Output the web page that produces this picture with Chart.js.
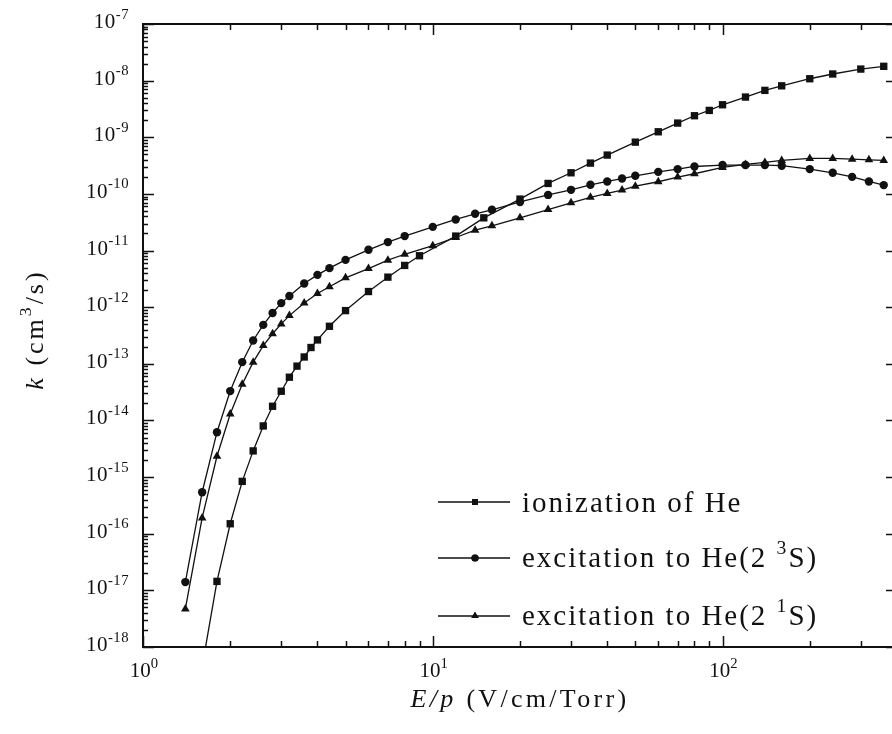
<!DOCTYPE html>
<html>
<head>
<meta charset="utf-8">
<script src="https://cdn.jsdelivr.net/npm/chart.js@4.4.1/dist/chart.umd.min.js"></script>
<style>
html, body { margin: 0; padding: 0; overflow: hidden; background: #fff; }
#wrap { position: absolute; left: 0; top: 0; width: 910px; height: 734px; }
</style>
</head>
<body>
<div id="wrap"><canvas id="myChart"></canvas></div>
<script>
// E/p values (V/cm/Torr) and rate coefficients k (cm3/s)
const ionX = [1.6, 1.8, 2.0, 2.2, 2.4, 2.6, 2.8, 3.0, 3.2, 3.4, 3.6, 3.8, 4.0, 4.4, 5, 6, 7, 8, 9, 12, 15, 20, 25, 30, 35, 40, 50, 60, 70, 80, 90, 100, 120, 140, 160, 200, 240, 300, 360];
const ionK = [4.5e-19, 1.44e-17, 1.5e-16, 8.4e-16, 2.9e-15, 8.0e-15, 1.78e-14, 3.28e-14, 5.8e-14, 9.1e-14, 1.32e-13, 1.94e-13, 2.64e-13, 4.6e-13, 8.7e-13, 1.89e-12, 3.39e-12, 5.46e-12, 8.1e-12, 1.8e-11, 3.78e-11, 8.1e-11, 1.53e-10, 2.36e-10, 3.5e-10, 4.85e-10, 8.2e-10, 1.25e-9, 1.78e-9, 2.4e-9, 2.98e-9, 3.75e-9, 5.13e-9, 6.73e-9, 8.1e-9, 1.08e-8, 1.31e-8, 1.6e-8, 1.79e-8];

const ex3X = [1.4, 1.6, 1.8, 2.0, 2.2, 2.4, 2.6, 2.8, 3.0, 3.2, 3.6, 4.0, 4.4, 5, 6, 7, 8, 10, 12, 14, 16, 20, 25, 30, 35, 40, 45, 50, 60, 70, 80, 100, 120, 140, 160, 200, 240, 280, 320, 360];
const ex3K = [1.4e-17, 5.4e-16, 6.2e-15, 3.3e-14, 1.07e-13, 2.58e-13, 4.87e-13, 7.9e-13, 1.18e-12, 1.58e-12, 2.62e-12, 3.72e-12, 4.89e-12, 6.85e-12, 1.03e-11, 1.41e-11, 1.8e-11, 2.62e-11, 3.54e-11, 4.45e-11, 5.25e-11, 7.2e-11, 9.6e-11, 1.18e-10, 1.45e-10, 1.66e-10, 1.87e-10, 2.09e-10, 2.45e-10, 2.74e-10, 3.05e-10, 3.23e-10, 3.23e-10, 3.23e-10, 3.15e-10, 2.74e-10, 2.36e-10, 2.0e-10, 1.66e-10, 1.43e-10];

const ex1X = [1.4, 1.6, 1.8, 2.0, 2.2, 2.4, 2.6, 2.8, 3.0, 3.2, 3.6, 4.0, 4.4, 5, 6, 7, 8, 10, 12, 14, 16, 20, 25, 30, 35, 40, 45, 50, 60, 70, 80, 100, 120, 140, 160, 200, 240, 280, 320, 360];
const ex1K = [4.7e-18, 1.9e-16, 2.33e-15, 1.3e-14, 4.36e-14, 1.07e-13, 2.1e-13, 3.39e-13, 5.07e-13, 7.1e-13, 1.19e-12, 1.74e-12, 2.29e-12, 3.3e-12, 4.8e-12, 6.76e-12, 8.6e-12, 1.22e-11, 1.7e-11, 2.29e-11, 2.73e-11, 3.78e-11, 5.3e-11, 6.97e-11, 8.7e-11, 1.02e-10, 1.17e-10, 1.37e-10, 1.64e-10, 1.98e-10, 2.27e-10, 2.94e-10, 3.32e-10, 3.6e-10, 3.9e-10, 4.24e-10, 4.24e-10, 4.1e-10, 4.0e-10, 3.9e-10];

// axis tick labels (powers of ten)
const xTickExp = [0, 1, 2];
const yTickExp = [-7, -8, -9, -10, -11, -12, -13, -14, -15, -16, -17, -18];

// legend texts: [plain, superscript, tail]
const seriesNames = [
    ['ionization of He', '', ''],
    ['excitation to He(2 ', '3', 'S)'],
    ['excitation to He(2 ', '1', 'S)']
];

const SERIF = "'Liberation Serif', 'Times New Roman', serif";
const ctx = document.querySelector("#myChart");

function pts(xs, ys) {
    return xs.map((x, i) => ({ x: x, y: ys[i] }));
}

// draws a run of text pieces: {t, it, sup}
function drawRich(c, parts, x, y, size, spacing, align, supScale) {
    const ss = supScale || 0.68;
    c.letterSpacing = spacing + 'px';
    let w = 0;
    parts.forEach(p => {
        c.font = (p.it ? 'italic ' : '') + (p.sup ? size * ss : size) + 'px ' + SERIF;
        p.w = c.measureText(p.t).width;
        w += p.w;
    });
    let cx = align === 'center' ? x - w / 2 : align === 'right' ? x - w : x;
    c.textAlign = 'left';
    c.textBaseline = 'alphabetic';
    parts.forEach(p => {
        c.font = (p.it ? 'italic ' : '') + (p.sup ? size * ss : size) + 'px ' + SERIF;
        c.fillText(p.t, cx, p.sup ? y - size * 0.45 : y);
        cx += p.w;
    });
    c.letterSpacing = '0px';
}

const framePlugin = {
    id: 'frame',
    afterDraw(chart) {
        const c = chart.ctx;
        const a = chart.chartArea;
        const xs = chart.scales.x;
        const ys = chart.scales.y;
        c.save();
        c.fillStyle = '#111';
        c.strokeStyle = '#111';

        // ticks, all pointing inward
        c.lineWidth = 1.5;
        c.beginPath();
        for (let e = 0; e <= 2; e++) {
            for (let m = 1; m <= 9; m++) {
                const v = m * Math.pow(10, e);
                if (v > xs.max) continue;
                const px = Math.round(xs.getPixelForValue(v)) + 0.5;
                const len = m === 1 ? 11 : 6;
                c.moveTo(px, a.bottom); c.lineTo(px, a.bottom - len);
                c.moveTo(px, a.top); c.lineTo(px, a.top + len);
            }
        }
        for (let e = -18; e <= -7; e++) {
            for (let m = 1; m <= 9; m++) {
                const v = m * Math.pow(10, e);
                if (v > ys.max * 1.0001) continue;
                const py = Math.round(ys.getPixelForValue(v)) + 0.5;
                const len = m === 1 ? 11 : 5;
                c.moveTo(a.left, py); c.lineTo(a.left + len, py);
                c.moveTo(a.right, py); c.lineTo(a.right - len, py);
            }
        }
        c.stroke();

        // frame
        c.lineWidth = 2;
        c.strokeRect(a.left, a.top, a.right - a.left, a.bottom - a.top);

        // tick labels
        xTickExp.forEach(e => {
            const px = xs.getPixelForValue(Math.pow(10, e));
            drawRich(c, [{ t: '10' }, { t: String(e), sup: true }], px + 1, a.bottom + 30, 21, 0, 'center', 0.7);
        });
        yTickExp.forEach(e => {
            const py = ys.getPixelForValue(Math.pow(10, e));
            drawRich(c, [{ t: '10' }, { t: String(e), sup: true }], 129, py + 4, 21, 0.5, 'right', 0.7);
        });

        // axis titles
        drawRich(c, [{ t: 'E/p', it: true }, { t: ' (V/cm/Torr)' }], (a.left + a.right) / 2, 707, 26, 3.3, 'center');
        c.save();
        c.translate(43, (a.top + a.bottom) / 2 - 6);
        c.rotate(-Math.PI / 2);
        drawRich(c, [{ t: 'k', it: true }, { t: ' (cm' }, { t: '3', sup: true }, { t: '/s)' }], 0, 0, 26, 3, 'center');
        c.restore();

        // legend
        const rows = [502, 558, 616];
        const base = [512, 567, 625];
        chart.data.datasets.forEach((ds, i) => {
            c.lineWidth = 1.3;
            c.beginPath();
            c.moveTo(438, rows[i]); c.lineTo(510, rows[i]);
            c.stroke();
            Chart.helpers.drawPoint(c, {
                pointStyle: ds.pointStyle,
                radius: ds.pointStyle === 'circle' ? 3.6 : 4.2,
                rotation: 0,
                borderWidth: 0
            }, 475, rows[i]);
            c.fill();
            const n = seriesNames[i];
            const parts = [{ t: n[0] }];
            if (n[1]) parts.push({ t: n[1], sup: true }, { t: n[2] });
            drawRich(c, parts, 522, base[i], 29, 2, 'left');
        });
        c.restore();
    }
};

const common = {
    showLine: true,
    borderColor: '#111',
    backgroundColor: '#111',
    pointBackgroundColor: '#111',
    pointBorderColor: '#111',
    borderWidth: 1.3,
    pointBorderWidth: 0,
    tension: 0
};

new Chart(ctx, {
    type: 'scatter',
    data: {
        datasets: [
            Object.assign({ label: 'ionization of He', data: pts(ionX, ionK), pointStyle: 'rect', pointRadius: 5.2 }, common),
            Object.assign({ label: 'excitation to He(2 3S)', data: pts(ex3X, ex3K), pointStyle: 'circle', pointRadius: 4.2 }, common),
            Object.assign({ label: 'excitation to He(2 1S)', data: pts(ex1X, ex1K), pointStyle: 'triangle', pointRadius: 5 }, common)
        ]
    },
    options: {
        responsive: true,
        maintainAspectRatio: false,
        animation: false,
        layout: { padding: { left: 143, top: 24, right: 13, bottom: 87 } },
        plugins: {
            legend: { display: false },
            tooltip: { enabled: false }
        },
        scales: {
            x: { type: 'logarithmic', min: 1, max: 400, display: false },
            y: { type: 'logarithmic', min: 1e-18, max: 1e-7, display: false }
        }
    },
    plugins: [framePlugin]
});
</script>
</body>
</html>
